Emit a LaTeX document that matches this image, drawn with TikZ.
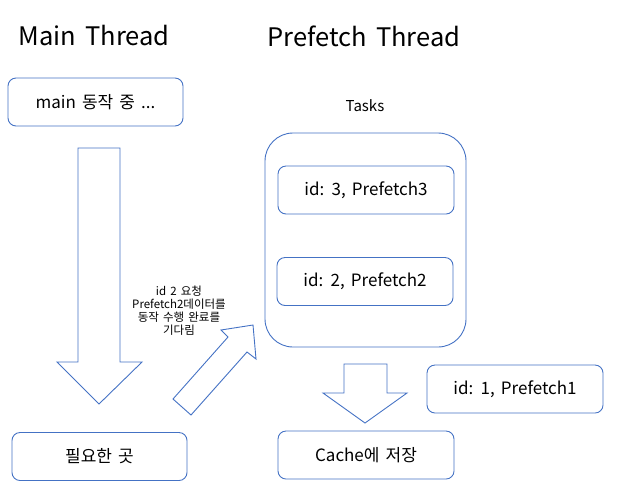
\documentclass[tikz,border=0pt]{standalone}
\usepackage{fontspec}
\setmainfont[WordSpace=1.6]{Noto Sans CJK KR}
\definecolor{boxblue}{HTML}{4472C4}
\tikzset{
  taskbox/.style={draw=boxblue, line width=0.9pt, rounded corners=8pt,
    minimum width=176pt, minimum height=48pt, font=\fontsize{17}{20}\selectfont},
  titletext/.style={font=\fontsize{25.5}{30}\selectfont},
  blockarrow/.style={draw=boxblue, line width=0.9pt, line join=miter}
}
\begin{document}
\begin{tikzpicture}[x=1pt,y=-1pt]
\useasboundingbox (0,0) rectangle (617,491);
\node[titletext] (maintitle) at (94,36) {Main Thread};
\node[titletext] (prefetchtitle) at (364,36) {Prefetch Thread};
\node[taskbox, minimum width=175pt] (mainwork) at (95.5,102) {main 동작 중 ...};
\node[taskbox, minimum width=175pt] (needed) at (99.5,456.5) {필요한 곳};
\node[font=\fontsize{15}{18}\selectfont] (tasks) at (365,106) {Tasks};
\node[draw=boxblue, line width=0.9pt, rounded corners=28pt,
  minimum width=201pt, minimum height=214pt] (queue) at (365.5,240) {};
\node[taskbox] (task3) at (366,190) {id: 3, Prefetch3};
\node[taskbox] (task2) at (365,281.5) {id: 2, Prefetch2};
\node[taskbox] (task1) at (515,389) {id: 1, Prefetch1};
\node[taskbox] (cache) at (366,455) {Cache에 저장};
\node[align=center, font=\fontsize{11.5}{13}\selectfont] (waitnote) at (179,310.5)
  {id 2 요청\\Prefetch2데이터를\\동작 수행 완료를\\기다림};
% block arrows
\draw[blockarrow] (78,148) -- (120,148) -- (120,362) -- (142,362) -- (99,404)
  -- (57,362) -- (78,362) -- cycle;
\draw[blockarrow] (344,364) -- (387,364) -- (387,393) -- (407,393) -- (365,423)
  -- (323,393) -- (344,393) -- cycle;
\draw[blockarrow] (173,399) -- (228,337) -- (221,330) -- (253,325) -- (256,359)
  -- (247,352) -- (191,415) -- cycle;
\end{tikzpicture}
\end{document}
